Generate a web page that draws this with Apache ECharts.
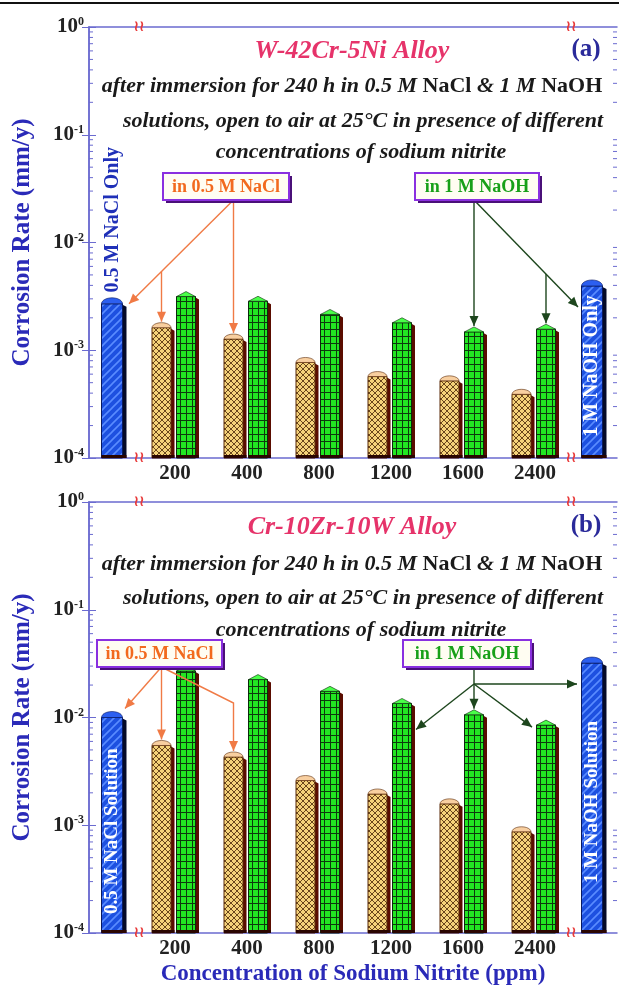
<!DOCTYPE html>
<html lang="en">
<head>
<meta charset="UTF-8">
<title>Corrosion rate vs sodium nitrite</title>
<script src="https://cdn.jsdelivr.net/npm/echarts@6/dist/echarts.min.js"></script>
<style>
  html, body { margin: 0; padding: 0; background: #fff; }
  #main { width: 619px; height: 991px; }
</style>
</head>
<body>
<div id="main"></div>
<script>
// values, corrosion rate in mm/y
var concentrations = ['200', '400', '800', '1200', '1600', '2400'];

// (a) W-42Cr-5Ni
var blankA = [2.7e-3, 3.95e-3];   // 0.5 M NaCl only, 1 M NaOH only
var naclA = [1.62e-3, 1.27e-3, 7.7e-4, 5.7e-4, 5.2e-4, 3.9e-4];
var naohA = [3.15e-3, 2.85e-3, 2.15e-3, 1.8e-3, 1.48e-3, 1.57e-3];

// (b) Cr-10Zr-10W
var blankB = [1.0e-2, 3.2e-2];
var naclB = [5.5e-3, 4.3e-3, 2.6e-3, 1.95e-3, 1.58e-3, 8.7e-4];
var naohB = [2.7e-2, 2.25e-2, 1.75e-2, 1.35e-2, 1.06e-2, 8.5e-3];

var blankLabelsA = ['0.5 M NaCl Only', '1 M NaOH Only'];
var blankLabelsB = ['0.5 M NaCl Solution', '1 M NaOH Solution'];

var SERIF = '"Liberation Serif", "Times New Roman", serif';
var AXIS = '#6b6bd0';
var BLUE_TXT = '#2a2ab8';

// fill patterns
function makePattern(w, h, draw) {
    var c = document.createElement('canvas');
    c.width = w; c.height = h;
    draw(c.getContext('2d'), w, h);
    return { image: c, repeat: 'repeat' };
}
var orangeFill = makePattern(6, 6, function (g, w, h) {
    g.fillStyle = '#f5d27a'; g.fillRect(0, 0, w, h);
    g.strokeStyle = 'rgba(80,45,10,0.85)'; g.lineWidth = 1;
    g.beginPath(); g.moveTo(0, 0); g.lineTo(w, h); g.moveTo(w, 0); g.lineTo(0, h); g.stroke();
});
var greenFill = makePattern(6, 7, function (g, w, h) {
    g.fillStyle = '#22e622'; g.fillRect(0, 0, w, h);
    g.fillStyle = '#0d3a0d'; g.fillRect(0, 0, w, 1); g.fillRect(0, 0, 1, h);
});
var blueFill = makePattern(8, 8, function (g, w, h) {
    g.fillStyle = '#1d50e0'; g.fillRect(0, 0, w, h);
    g.strokeStyle = '#5a8cff'; g.lineWidth = 1.6;
    g.beginPath(); g.moveTo(0, h); g.lineTo(w, 0); g.moveTo(-2, 2); g.lineTo(2, -2);
    g.moveTo(w - 2, h + 2); g.lineTo(w + 2, h - 2); g.stroke();
});

var skins = {
    nacl: { fill: orangeFill, edge: '#5a2a08', side: '#5a0c00', cap: '#f8cfa0', capH: 5, dome: true },
    naoh: { fill: greenFill, edge: '#0b2a0b', side: '#5a0c00', cap: '#49ff49', capH: 5, dome: false },
    blue: { fill: blueFill, edge: '#0a1a60', side: '#050a28', cap: '#2c5ff0', capH: 6, dome: true }
};

// 3D-looking bar drawn from the axis scales
function barItem(kind, shift, front, side) {
    var sk = skins[kind];
    return function (params, api) {
        var top = api.coord([api.value(0), api.value(1)]);
        var bot = api.coord([api.value(0), 1e-4]);
        var x = top[0] + shift, y = top[1], b = bot[1];
        var cap = [];
        if (sk.dome) {
            for (var i = 0; i <= 12; i++) {
                var t = Math.PI * i / 12;
                cap.push([x + front / 2 - Math.cos(t) * front / 2, y - Math.sin(t) * sk.capH]);
            }
        } else {
            cap = [[x, y], [x + front / 2, y - sk.capH], [x + front, y]];
        }
        return {
            type: 'group',
            children: [
                { type: 'polygon', shape: { points: [[x + front, y + 1], [x + front + side, y + 3], [x + front + side, b], [x + front, b]] }, style: { fill: sk.side } },
                { type: 'rect', shape: { x: x, y: y, width: front, height: b - y }, style: { fill: sk.fill, stroke: sk.edge, lineWidth: 1 } },
                { type: 'polygon', shape: { points: cap }, style: { fill: sk.cap, stroke: sk.edge, lineWidth: 0.6 } },
                { type: 'rect', shape: { x: x, y: b - 3, width: front + side, height: 3 }, style: { fill: '#2a0500' } }
            ]
        };
    };
}

// minor log ticks on both frame sides
var minorVals = [];
for (var e = -4; e < 0; e++) {
    for (var m = 2; m <= 9; m++) minorVals.push([0, m * Math.pow(10, e)]);
}
function minorTick(params, api) {
    var l = api.coord([0, api.value(1)]);
    var r = api.coord([1, api.value(1)]);
    return {
        type: 'group',
        children: [
            { type: 'line', shape: { x1: l[0], y1: l[1], x2: l[0] + 4, y2: l[1] }, style: { stroke: AXIS, lineWidth: 1 } },
            { type: 'line', shape: { x1: r[0] - 4, y1: r[1], x2: r[0], y2: r[1] }, style: { stroke: AXIS, lineWidth: 1 } }
        ]
    };
}

var tops = [27, 502];
var H = 431;
var panels = [
    { blank: blankA, nacl: naclA, naoh: naohA },
    { blank: blankB, nacl: naclB, naoh: naohB }
];

var grid = [], xAxis = [], yAxis = [], series = [];

function logAxis(gi, extra) {
    var a = { gridIndex: gi, type: 'log', logBase: 10, min: 1e-4, max: 1, show: false };
    for (var k in extra) a[k] = extra[k];
    return a;
}

panels.forEach(function (p, k) {
    var T = tops[k];
    var g = k * 4;
    grid.push({ left: 89, top: T, width: 528, height: H });   // frame
    grid.push({ left: 89, top: T, width: 50, height: H });    // 0.5 M NaCl only
    grid.push({ left: 139, top: T, width: 432, height: H });  // with nitrite
    grid.push({ left: 571, top: T, width: 46, height: H });   // 1 M NaOH only

    var frameLine = { show: true, lineStyle: { color: AXIS, width: 1.5 } };
    xAxis.push({
        gridIndex: g, type: 'value', min: 0, max: 1, axisLine: frameLine,
        axisTick: { show: false }, axisLabel: { show: false }, splitLine: { show: false },
        name: k === 1 ? 'Concentration of Sodium Nitrite (ppm)' : '',
        nameLocation: 'middle', nameGap: 30,
        nameTextStyle: { fontFamily: SERIF, fontWeight: 'bold', fontSize: 23, color: BLUE_TXT }
    });
    xAxis.push({
        gridIndex: g, type: 'value', min: 0, max: 1, position: 'top', axisLine: frameLine,
        axisTick: { show: false }, axisLabel: { show: false }, splitLine: { show: false }
    });
    xAxis.push({ gridIndex: g + 1, type: 'category', data: ['NaCl only'], show: false });
    xAxis.push({
        gridIndex: g + 2, type: 'category', data: concentrations,
        axisLine: { show: false }, axisTick: { show: false },
        axisLabel: { fontFamily: SERIF, fontWeight: 'bold', fontSize: 21, color: '#222', margin: 5 }
    });
    xAxis.push({ gridIndex: g + 3, type: 'category', data: ['NaOH only'], show: false });

    yAxis.push(logAxis(g, {
        show: true, splitNumber: 4,
        axisLine: frameLine,
        axisTick: { inside: true, length: 7, lineStyle: { color: AXIS } },
        splitLine: { show: false },
        axisLabel: {
            margin: 5,
            formatter: function (v) { return '{b|10}{s|' + Math.round(Math.log10(v)) + '}'; },
            rich: {
                b: { fontFamily: SERIF, fontWeight: 'bold', fontSize: 21, color: '#222', lineHeight: 22 },
                s: { fontFamily: SERIF, fontWeight: 'bold', fontSize: 12, color: '#222', verticalAlign: 'top', lineHeight: 12 }
            }
        },
        name: 'Corrosion Rate (mm/y)', nameLocation: 'middle', nameGap: 54,
        nameTextStyle: { fontFamily: SERIF, fontWeight: 'bold', fontSize: 25, color: BLUE_TXT }
    }));
    yAxis.push(logAxis(g, {
        show: true, position: 'right', splitNumber: 4,
        axisLine: frameLine,
        axisTick: { inside: true, length: 7, lineStyle: { color: AXIS } },
        axisLabel: { show: false }, splitLine: { show: false }
    }));
    yAxis.push(logAxis(g + 1, {}));
    yAxis.push(logAxis(g + 2, {}));
    yAxis.push(logAxis(g + 3, {}));

    var xi = k * 5;
    series.push({ type: 'custom', xAxisIndex: xi, yAxisIndex: xi, data: minorVals, renderItem: minorTick, silent: true, z: 1 });
    series.push({ type: 'custom', name: 'NaCl only', xAxisIndex: xi + 2, yAxisIndex: xi + 2,
        data: [[0, p.blank[0]]], renderItem: barItem('blue', -12.5, 21, 4), silent: true, z: 3 });
    series.push({ type: 'custom', name: '0.5 M NaCl', xAxisIndex: xi + 3, yAxisIndex: xi + 3,
        data: p.nacl.map(function (v, i) { return [i, v]; }), renderItem: barItem('nacl', -23, 19, 3.5), silent: true, z: 3 });
    series.push({ type: 'custom', name: '1 M NaOH', xAxisIndex: xi + 3, yAxisIndex: xi + 3,
        data: p.naoh.map(function (v, i) { return [i, v]; }), renderItem: barItem('naoh', 1.5, 19, 3.5), silent: true, z: 3 });
    series.push({ type: 'custom', name: 'NaOH only', xAxisIndex: xi + 4, yAxisIndex: xi + 4,
        data: [[0, p.blank[1]]], renderItem: barItem('blue', -12.5, 21, 4), silent: true, z: 3 });
});

var myChart = echarts.init(document.getElementById('main'), null, { renderer: 'canvas' });
myChart.setOption({ animation: false, backgroundColor: '#fff', grid: grid, xAxis: xAxis, yAxis: yAxis, series: series });

// ---------- annotations ----------
function px(k, seg, cat, val) {
    var i = k * 5 + seg;
    return myChart.convertToPixel({ xAxisIndex: i, yAxisIndex: i }, [cat, val]);
}
var gr = [];

function text(x, y, str, size, color, italic, extra, family) {
    var el = {
        type: 'text', x: x, y: y, silent: true, z: 20,
        style: {
            text: str, fill: color, align: 'center', verticalAlign: 'middle',
            font: (italic ? 'italic ' : '') + 'bold ' + size + 'px ' + (family || SERIF)
        }
    };
    for (var k in extra) el[k] = extra[k];
    gr.push(el);
}
function richLine(x, y, parts, size) {
    var s = '', rich = {
        i: { fontFamily: SERIF, fontStyle: 'italic', fontWeight: 'bold', fontSize: size, fill: '#1a1a1a' },
        u: { fontFamily: SERIF, fontWeight: 'bold', fontSize: size, fill: '#1a1a1a' }
    };
    parts.forEach(function (p) { s += '{' + p[0] + '|' + p[1] + '}'; });
    gr.push({ type: 'text', x: x, y: y, silent: true, z: 20,
        style: { text: s, rich: rich, align: 'center', verticalAlign: 'middle' } });
}
function arrow(pts, color) {
    gr.push({ type: 'polyline', silent: true, z: 15, shape: { points: pts }, style: { stroke: color, lineWidth: 1.4, fill: null } });
    var p = pts[pts.length - 1], q = pts[pts.length - 2];
    var a = Math.atan2(p[1] - q[1], p[0] - q[0]);
    var L = 10, W = 4.5;
    var bx = p[0] - L * Math.cos(a), by = p[1] - L * Math.sin(a);
    gr.push({ type: 'polygon', silent: true, z: 16, shape: { points: [p,
        [bx + W * Math.sin(a), by - W * Math.cos(a)], [bx - W * Math.sin(a), by + W * Math.cos(a)]] },
        style: { fill: color } });
}
function box(x1, y1, x2, y2, str, color) {
    gr.push({ type: 'rect', silent: true, z: 17, shape: { x: x1 + 3, y: y1 + 3, width: x2 - x1, height: y2 - y1 }, style: { fill: '#4a1078' } });
    gr.push({ type: 'rect', silent: true, z: 18, shape: { x: x1, y: y1, width: x2 - x1, height: y2 - y1 },
        style: { fill: '#fffdf2', stroke: '#8a30e0', lineWidth: 2 } });
    text((x1 + x2) / 2, (y1 + y2) / 2 + 1, str, 18, color, false);
}
function onLine(a, b, x) { return [x, a[1] + (b[1] - a[1]) * (x - a[0]) / (b[0] - a[0])]; }

var titles = [['W-42Cr-5Ni Alloy', '(a)'], ['Cr-10Zr-10W Alloy', '(b)']];
var textY = [[51, 86, 121, 152], [527, 564, 598, 630]];
[0, 1].forEach(function (k) {
    var ty = textY[k];
    text(352, ty[0], titles[k][0], 26, '#e6336a', true);
    text(586, ty[0] - 1, titles[k][1], 25, '#2a2a9a', false);
    richLine(352, ty[1], [['i', 'after immersion for 240 h in 0.5 M '], ['u', 'NaCl'], ['i', ' & 1 M '], ['u', 'NaOH']], 22);
    richLine(363, ty[2], [['i', 'solutions, open to air at 25\u00b0C in presence of different']], 22);
    richLine(361, ty[3], [['i', 'concentrations of sodium nitrite']], 22);

    // axis break marks
    [139, 571].forEach(function (bx) {
        [tops[k], tops[k] + H].forEach(function (by) {
            text(bx, by, '\u2240\u2240', 15, '#e83a3a', false, {}, '"DejaVu Sans", sans-serif');
        });
    });
});

var OR = '#f07a45', DG = '#1d461d';

// ----- panel (a) arrows
(function () {
    var bl = px(0, 2, 0, blankA[0]), br = px(0, 4, 0, blankA[1]);
    var o200 = px(0, 3, 0, naclA[0]), o400 = px(0, 3, 1, naclA[1]);
    var g1600 = px(0, 3, 4, naohA[4]), g2400 = px(0, 3, 5, naohA[5]);
    var oc200 = o200[0] - 13.5, oc400 = o400[0] - 13.5;
    var O = [oc400, 200], tipB = [bl[0] + 15, bl[1]];
    arrow([O, tipB], OR);
    arrow([onLine(O, tipB, oc200), [oc200, o200[1] - 6]], OR);
    arrow([O, [oc400, o400[1] - 6]], OR);

    var gc1600 = g1600[0] + 11, gc2400 = g2400[0] + 11;
    var P = [gc1600, 200], tipR = [br[0] - 16, br[1] + 21];
    arrow([P, tipR], DG);
    arrow([P, [gc1600, g1600[1] - 6]], DG);
    arrow([onLine(P, tipR, gc2400), [gc2400, g2400[1] - 6]], DG);

    box(163, 173, 289, 200, 'in 0.5 M NaCl', '#f26a1e');
    box(415, 173, 539, 200, 'in 1 M NaOH', '#18a018');
})();

// ----- panel (b) arrows
(function () {
    var bl = px(1, 2, 0, blankB[0]), br = px(1, 4, 0, blankB[1]);
    var o200 = px(1, 3, 0, naclB[0]), o400 = px(1, 3, 1, naclB[1]);
    var g1200 = px(1, 3, 3, naohB[3]), g1600 = px(1, 3, 4, naohB[4]), g2400 = px(1, 3, 5, naohB[5]);
    var oc200 = o200[0] - 13.5, oc400 = o400[0] - 13.5;
    var O = [oc200, 667];
    arrow([O, [bl[0] + 11, bl[1] - 9]], OR);
    arrow([O, [oc200, o200[1] - 6]], OR);
    arrow([O, [oc400, 703], [oc400, o400[1] - 6]], OR);

    var gc1600 = g1600[0] + 11;
    var B = [gc1600, 684];
    gr.push({ type: 'line', silent: true, z: 15, shape: { x1: gc1600, y1: 667, x2: B[0], y2: B[1] }, style: { stroke: DG, lineWidth: 1.4 } });
    arrow([B, [br[0] - 17, B[1]]], DG);
    arrow([B, [g1200[0] + 25, g1200[1] + 26]], DG);
    arrow([B, [gc1600, g1600[1] - 6]], DG);
    arrow([B, [g2400[0] - 3, g2400[1] + 2]], DG);

    box(97, 640, 222, 667, 'in 0.5 M NaCl', '#f26a1e');
    box(403, 640, 531, 667, 'in 1 M NaOH', '#18a018');
})();

// labels on the reference bars (read bottom to top)
(function () {
    var a0 = px(0, 2, 0, blankA[0]), a1 = px(0, 4, 0, blankA[1]);
    var b0 = px(1, 2, 0, blankB[0]), b1 = px(1, 4, 0, blankB[1]);
    var rot = { rotation: Math.PI / 2 };
    text(a0[0] - 1, a0[1] - 84, blankLabelsA[0], 20, '#1f30b8', false, rot);
    text(a1[0] - 2, (a1[1] + tops[0] + H) / 2 - 6, blankLabelsA[1], 20, '#ffffff', false, rot);
    text(b0[0] - 2, (b0[1] + tops[1] + H) / 2 + 6, blankLabelsB[0], 19, '#ffffff', false, rot);
    text(b1[0] - 2, (b1[1] + tops[1] + H) / 2 + 4, blankLabelsB[1], 19, '#ffffff', false, rot);
})();

// figure edge line
gr.push({ type: 'line', silent: true, shape: { x1: 0, y1: 3, x2: 619, y2: 3 }, style: { stroke: '#111', lineWidth: 2 } });

myChart.setOption({ graphic: { elements: gr } });
</script>
</body>
</html>
